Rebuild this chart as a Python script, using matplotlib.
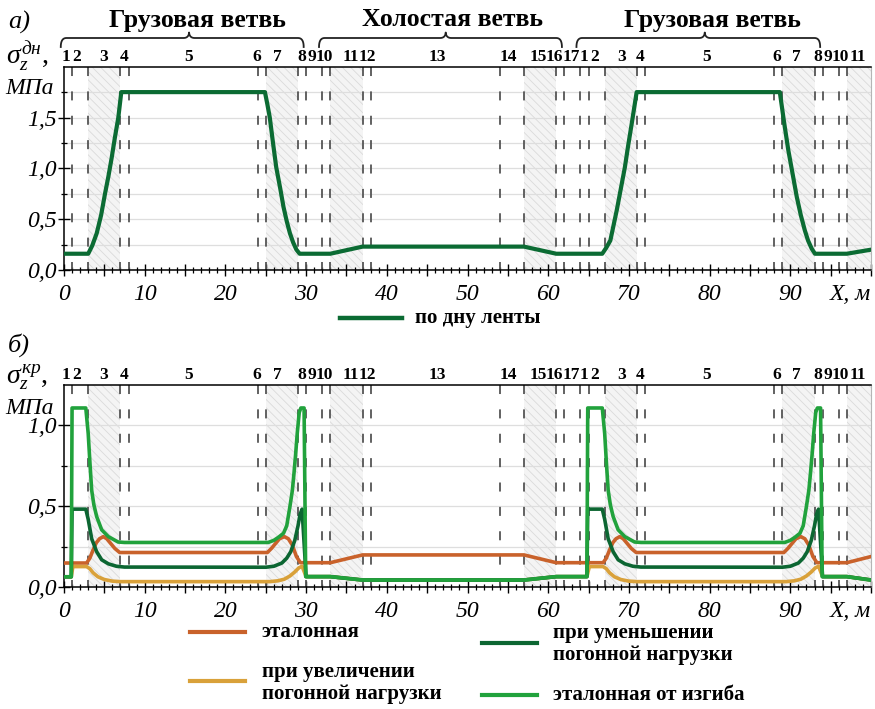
import numpy as np
import matplotlib
matplotlib.use('Agg')
import matplotlib.pyplot as plt
from matplotlib.lines import Line2D
import matplotlib.transforms as mtransforms

plt.rcParams['font.family'] = ['Liberation Serif', 'DejaVu Serif']
plt.rcParams['mathtext.fontset'] = 'custom'
plt.rcParams['mathtext.it'] = 'Liberation Serif:italic'
plt.rcParams['mathtext.rm'] = 'Liberation Serif'
plt.rcParams['mathtext.bf'] = 'Liberation Serif:bold'
plt.rcParams['hatch.linewidth'] = 0.6

# ---------------- data ----------------
boundaries = [1, 3, 7, 8, 24, 25, 29, 30, 32, 33, 37, 38, 54, 57, 61, 62, 64, 65,
              67, 71, 72, 88, 89, 93, 94, 96, 97]
shaded = [(3, 7), (25, 29), (33, 37), (57, 61), (67, 71), (89, 93), (97, 100)]
seg_labels = ['1', '2', '3', '4', '5', '6', '7', '8', '9', '10', '11', '12', '13', '14',
              '15', '16', '17', '1', '2', '3', '4', '5', '6', '7', '8', '9', '10', '11']
seg_label_x = [0.3, 1.6, 4.9, 7.5, 15.4, 23.9, 26.4, 29.5, 30.7, 32.3, 35.6, 37.6, 46.3,
               55.0, 58.8, 60.8, 62.9, 64.4, 65.7, 69.1, 71.4, 79.6, 88.3, 90.8, 93.4,
               94.7, 96.2, 98.4]
branch_titles = ['Грузовая ветвь', 'Холостая ветвь', 'Грузовая ветвь']
branch_x = [16.5, 48.1, 80.4]
brace_spans = [(-0.4, 29.7, 15.5), (31.6, 61.7, 47.3), (63.5, 93.7, 79.4)]

x_ticks_labeled = [0, 10, 20, 30, 40, 50, 60, 70, 80, 90]

# top chart: stress at belt bottom
bottom_x = [0, 3.0, 3.5, 4.05, 4.6, 5.08, 5.5, 5.9, 6.3, 6.73, 7.1,
            24.9, 25.2, 25.5, 25.9, 26.3, 26.8, 27.2, 27.6, 28.0, 28.4, 28.8, 29.2,
            33.0, 37.0, 57.0, 61.0,
            66.7, 67.2, 67.7, 68.1, 68.5, 69.0, 69.5, 69.9, 70.35, 70.96,
            88.7, 89.2, 89.75, 90.3, 90.8, 91.3, 91.8, 92.2, 92.65, 93.06,
            97.0, 100.0]
bottom_y = [0.16, 0.16, 0.24, 0.36, 0.54, 0.75, 0.92, 1.10, 1.30, 1.50, 1.75,
            1.75, 1.63, 1.50, 1.25, 1.01, 0.80, 0.62, 0.48, 0.36, 0.27, 0.20, 0.16,
            0.16, 0.23, 0.23, 0.16,
            0.16, 0.22, 0.29, 0.44, 0.59, 0.80, 1.01, 1.22, 1.44, 1.75,
            1.75, 1.47, 1.18, 0.94, 0.72, 0.54, 0.39, 0.29, 0.21, 0.16,
            0.16, 0.20]

# bottom chart
et_x = [0, 2.8, 3.2, 3.6, 4.0, 4.4, 4.87, 5.3, 5.8, 6.3, 6.9,
        25.2, 25.7, 26.2, 26.7, 27.3, 27.8, 28.3, 28.8, 29.3,
        33.0, 37.0, 57.0, 61.0,
        66.8, 67.2, 67.6, 68.0, 68.4, 68.87, 69.3, 69.8, 70.3, 70.9,
        89.2, 89.7, 90.2, 90.7, 91.3, 91.8, 92.3, 92.8, 93.3,
        97.0, 100.0]
et_y = [0.15, 0.15, 0.18, 0.23, 0.275, 0.30, 0.313, 0.30, 0.27, 0.24, 0.215,
        0.215, 0.24, 0.27, 0.30, 0.313, 0.30, 0.26, 0.19, 0.152,
        0.152, 0.20, 0.20, 0.152,
        0.152, 0.18, 0.23, 0.275, 0.30, 0.313, 0.30, 0.27, 0.24, 0.215,
        0.215, 0.24, 0.27, 0.30, 0.313, 0.30, 0.26, 0.19, 0.152,
        0.152, 0.19]

inc_x = [0, 0.9, 1.1, 2.8, 3.2, 3.6, 4.2, 5.0, 6.0, 7.0,
         25.5, 26.5, 27.3, 28.0, 28.6, 29.1, 29.5, 30.0,
         33.0, 37.0, 57.0, 61.0,
         64.8, 65.1, 66.8, 67.2, 67.6, 68.2, 69.0, 70.0, 71.0,
         89.5, 90.5, 91.3, 92.0, 92.6, 93.1, 93.5, 94.0,
         97.0, 100.0]
inc_y = [0.065, 0.065, 0.128, 0.128, 0.115, 0.09, 0.065, 0.048, 0.038, 0.035,
         0.035, 0.04, 0.05, 0.07, 0.095, 0.12, 0.13, 0.066,
         0.066, 0.045, 0.045, 0.066,
         0.066, 0.128, 0.128, 0.115, 0.09, 0.065, 0.048, 0.038, 0.035,
         0.035, 0.04, 0.05, 0.07, 0.095, 0.12, 0.13, 0.066,
         0.066, 0.045]

dec_x = [0, 0.9, 1.0, 2.7, 3.0, 3.43, 4.05, 4.67, 5.5, 6.5, 7.5,
         25.0, 26.0, 27.0, 27.6, 28.1, 28.6, 29.0, 29.25, 29.5, 30.0,
         33.0, 37.0, 57.0, 61.0,
         64.8, 64.9, 66.7, 67.0, 67.43, 68.05, 68.67, 69.5, 70.5, 71.5,
         89.0, 90.0, 91.0, 91.6, 92.1, 92.6, 93.0, 93.25, 93.5, 94.0,
         97.0, 100.0]
dec_y = [0.065, 0.065, 0.483, 0.483, 0.42, 0.30, 0.22, 0.17, 0.145, 0.13, 0.125,
         0.124, 0.13, 0.15, 0.18, 0.22, 0.29, 0.38, 0.45, 0.483, 0.066,
         0.066, 0.045, 0.045, 0.066,
         0.066, 0.483, 0.483, 0.42, 0.30, 0.22, 0.17, 0.145, 0.13, 0.125,
         0.124, 0.13, 0.15, 0.18, 0.22, 0.29, 0.38, 0.45, 0.483, 0.066,
         0.066, 0.045]

bend_x = [0, 0.9, 1.0, 2.7, 3.0, 3.2, 3.43, 3.7, 4.05, 4.67, 5.5, 6.7, 7.5,
          25.3, 26.0, 26.6, 27.2, 27.6, 28.0, 28.3, 28.5, 28.7, 28.9, 29.15, 29.35, 29.75, 29.95,
          33.0, 37.0, 57.0, 61.0,
          64.8, 64.9, 66.7, 67.0, 67.2, 67.43, 67.7, 68.05, 68.67, 69.5, 70.7, 71.5,
          89.3, 90.0, 90.6, 91.2, 91.6, 92.0, 92.3, 92.5, 92.7, 92.9, 93.15, 93.35, 93.75, 93.95,
          97.0, 100.0]
bend_y = [0.065, 0.065, 1.108, 1.108, 0.95, 0.78, 0.60, 0.51, 0.437, 0.355, 0.313, 0.28, 0.277,
          0.277, 0.29, 0.31, 0.334, 0.38, 0.50, 0.60, 0.705, 0.82, 0.95, 1.08, 1.108, 1.108, 0.066,
          0.066, 0.045, 0.045, 0.066,
          0.066, 1.108, 1.108, 0.95, 0.78, 0.60, 0.51, 0.437, 0.355, 0.313, 0.28, 0.277,
          0.277, 0.29, 0.31, 0.334, 0.38, 0.50, 0.60, 0.705, 0.82, 0.95, 1.08, 1.108, 1.108, 0.066,
          0.066, 0.045]

legend_top = 'по дну ленты'
legend_bottom = ['эталонная', 'при увеличении\nпогонной нагрузки',
                 'при уменьшении\nпогонной нагрузки', 'эталонная от изгиба']

C_TOP = '#0b6b33'
C_ET = '#c9622b'
C_INC = '#d9a13a'
C_DEC = '#0c6632'
C_BEND = '#21a23c'

# ---------------- figure ----------------
W, H = 875, 709
fig = plt.figure(figsize=(W / 100, H / 100), dpi=100)


def fx(px):
    return px / W


def fy(py):
    return 1 - py / H


ax1 = fig.add_axes([fx(64), fy(270), fx(871) - fx(64), fy(66.7) - fy(270)])
ax2 = fig.add_axes([fx(64), fy(587.3), fx(871) - fx(64), fy(385) - fy(587.3)])


def style_axis(ax, ymax, ymajor, yminor, numbers_py):
    ax.set_xlim(0, 100)
    ax.set_ylim(0, ymax)
    for a, b in shaded:
        ax.axvspan(a, b, facecolor='#f4f4f4', edgecolor='#dadada', hatch='\\\\\\\\',
                   linewidth=0, zorder=0.3)
    ax.set_axisbelow(True)
    for yv in list(ymajor) + list(yminor):
        if 0 < yv < ymax:
            ax.axhline(yv, color='#dedede', lw=0.9, zorder=0.4)
    for b in boundaries:
        ax.plot([b, b], [ymax, 0], color='#555555', lw=1.3,
                linestyle=(0, (5, 8.5)), zorder=1)
    xt = list(range(0, 101, 5))
    xl = [str(v) if (v % 10 == 0 and v in x_ticks_labeled) else '' for v in xt]
    ax.set_xticks(xt, labels=xl, fontsize=17, fontstyle='italic')
    ax.set_xticks(list(range(0, 101, 1)), minor=True)
    ax.set_yticks(ymajor, labels=[f'{v:.1f}'.replace('.', ',') for v in ymajor],
                  fontsize=17, fontstyle='italic')
    ax.set_yticks(yminor, minor=True)
    ax.tick_params(axis='both', which='major', direction='inout', length=9, width=1.0,
                   color='black')
    ax.tick_params(axis='both', which='minor', direction='inout', length=5, width=0.9,
                   color='black')
    ax.tick_params(axis='x', which='major', pad=5.5)
    ax.tick_params(axis='y', which='major', pad=1)
    for s in ['left', 'bottom', 'top']:
        ax.spines[s].set_color('black')
        ax.spines[s].set_linewidth(1.1)
    ax.spines['right'].set_color('#b5b5b5')
    ax.spines['right'].set_linewidth(0.8)
    # X, m label
    ax.text(97.4, -0.068, 'X, м', transform=ax.get_xaxis_transform(), ha='center',
            va='top', fontsize=17, fontstyle='italic')
    # segment numbers
    tr = mtransforms.blended_transform_factory(ax.transData, fig.transFigure)
    for lab, xv in zip(seg_labels, seg_label_x):
        ax.text(xv, fy(numbers_py), lab, transform=tr, ha='center', va='center',
                fontsize=12.5, fontweight='bold', clip_on=False)


style_axis(ax1, 2.0, [0.0, 0.5, 1.0, 1.5], [0.25, 0.75, 1.25, 1.75], 57)
style_axis(ax2, 1.25, [0.0, 0.5, 1.0], [0.25, 0.75], 375)

# curves
ax1.plot(bottom_x, bottom_y, color=C_TOP, lw=3.0, zorder=3, solid_joinstyle='round')
ax2.plot(et_x, et_y, color=C_ET, lw=2.6, zorder=3, solid_joinstyle='round')
ax2.plot(inc_x, inc_y, color=C_INC, lw=2.6, zorder=3.1, solid_joinstyle='round')
ax2.plot(dec_x, dec_y, color=C_DEC, lw=2.6, zorder=3.2, solid_joinstyle='round')
ax2.plot(bend_x, bend_y, color=C_BEND, lw=2.6, zorder=3.3, solid_joinstyle='round')

# braces and branch titles
trb = mtransforms.blended_transform_factory(ax1.transData, fig.transFigure)


def qbez(p0, p1, p2, n=12):
    t = np.linspace(0, 1, n)
    xs = (1 - t) ** 2 * p0[0] + 2 * (1 - t) * t * p1[0] + t ** 2 * p2[0]
    ys = (1 - t) ** 2 * p0[1] + 2 * (1 - t) * t * p1[1] + t ** 2 * p2[1]
    return list(xs), list(ys)


def brace(x0, x1, xm, y_end=47, y_mid=38, y_tip=32.5, d=0.7):
    xs, ys = [], []
    a, b = qbez((x0, y_end), (x0, y_mid), (x0 + d, y_mid))
    xs += a; ys += b
    a, b = qbez((xm - d, y_mid), (xm - 0.05, y_mid), (xm, y_tip))
    xs += a; ys += b
    a, b = qbez((xm, y_tip), (xm + 0.05, y_mid), (xm + d, y_mid))
    xs += a; ys += b
    a, b = qbez((x1 - d, y_mid), (x1, y_mid), (x1, y_end))
    xs += a; ys += b
    ax1.add_line(Line2D(xs, [fy(v) for v in ys], transform=trb, color='#222222',
                        lw=1.3, clip_on=False))


for (x0, x1, xm), title, tx in zip(brace_spans, branch_titles, branch_x):
    brace(x0, x1, xm)
    ax1.text(tx, fy(20), title, transform=trb, ha='center', va='center',
             fontsize=18.5, fontweight='bold', clip_on=False)

# panel labels
fig.text(fx(8), fy(22), 'а)', fontsize=19, fontstyle='italic', ha='left', va='center')
fig.text(fx(6), fy(57), r'$\sigma_z^{дн}$,', fontsize=20, ha='left', va='center')
fig.text(fx(5), fy(89), 'МПа', fontsize=17, fontstyle='italic', ha='left', va='center')
fig.text(fx(8), fy(345), 'б)', fontsize=19, fontstyle='italic', ha='left', va='center')
fig.text(fx(6), fy(377), r'$\sigma_z^{кр}$,', fontsize=20, ha='left', va='center')
fig.text(fx(5), fy(408), 'МПа', fontsize=17, fontstyle='italic', ha='left', va='center')

# legends
fig.add_artist(Line2D([fx(340), fx(402)], [fy(318), fy(318)], color=C_TOP, lw=3.2))
fig.text(fx(415), fy(318), legend_top, fontsize=15, fontweight='bold', ha='left', va='center')

# (colour, line x0, line x1, line y, text x, text centre y)
leg_items = [(C_ET, 190, 245, 632, 262, 632), (C_INC, 190, 245, 681, 262, 683),
             (C_DEC, 482, 537, 643, 553, 644), (C_BEND, 482, 537, 695, 553, 695)]
for (c, xa, xb, yy, xt, ty), lab in zip(leg_items, legend_bottom):
    fig.add_artist(Line2D([fx(xa), fx(xb)], [fy(yy), fy(yy)], color=c, lw=3.0))
    fig.text(fx(xt), fy(ty), lab, fontsize=15, fontweight='bold', ha='left',
             va='center', linespacing=1.15)

fig.savefig('out.png', dpi=100)
